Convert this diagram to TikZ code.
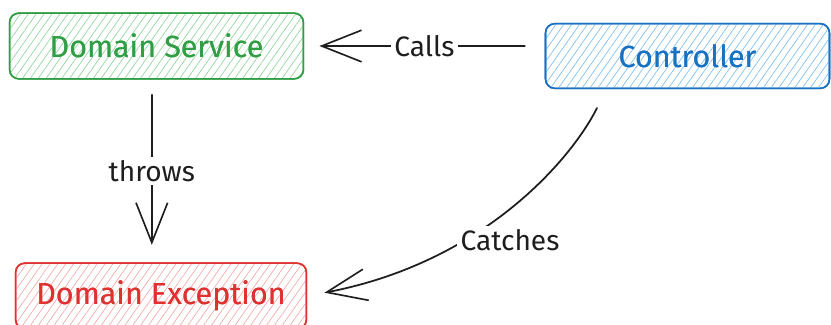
\documentclass[tikz,border=0pt]{standalone}
\usepackage{fontspec}
\setmainfont{Fira Sans}
\usetikzlibrary{arrows.meta,patterns.meta}
\definecolor{dsgreen}{HTML}{2F9E44}
\definecolor{dshatch}{HTML}{8FD69A}
\definecolor{ctblue}{HTML}{1971C2}
\definecolor{cthatch}{HTML}{7DBEF0}
\definecolor{exred}{HTML}{E03131}
\definecolor{exhatch}{HTML}{F2A8A8}
\definecolor{ink}{HTML}{1E1E1E}
\tikzset{
  box/.style={draw, line width=1.3pt, rounded corners=8pt, fill=white,
    inner sep=0pt, font=\fontsize{26}{30}\selectfont},
  hatch/.style={pattern={Lines[angle=55,distance=5.5pt,line width=0.55pt]},
    pattern color=#1},
  conn/.style={draw=ink, line width=1.5pt, line cap=round,
    -{Straight Barb[length=34pt,width=27pt,line width=1.4pt]}},
  lbl/.style={fill=white, text=ink, inner sep=3pt,
    font=\fontsize{24}{28}\selectfont}
}
\begin{document}
\begin{tikzpicture}[x=0.03cm,y=-0.03cm]
  % canvas
  \fill[white] (0,0) rectangle (831,324);
  \useasboundingbox (0,0) rectangle (831,324);
  \clip (0,0) rectangle (831,324);

  % boxes: hatched fill under a rounded outline
  \node[box, draw=dsgreen, text=dsgreen, minimum width=250.9pt, minimum height=56.1pt]
    (ds) at (156.5,46) {Domain Service};
  \fill[hatch=dshatch, rounded corners=8pt] (ds.south west) rectangle (ds.north east);
  \node[box, draw=dsgreen, text=dsgreen, fill=none, minimum width=250.9pt, minimum height=56.1pt]
    at (ds) {Domain Service};

  \node[box, draw=ctblue, text=ctblue, minimum width=242.4pt, minimum height=55.3pt]
    (ctl) at (687.5,56) {Controller};
  \fill[hatch=cthatch, rounded corners=8pt] (ctl.south west) rectangle (ctl.north east);
  \node[box, draw=ctblue, text=ctblue, fill=none, minimum width=242.4pt, minimum height=55.3pt]
    at (ctl) {Controller};

  \node[box, draw=exred, text=exred, minimum width=248.3pt, minimum height=56.1pt]
    (exc) at (161,296) {Domain Exception};
  \fill[hatch=exhatch, rounded corners=8pt] (exc.south west) rectangle (exc.north east);
  \node[box, draw=exred, text=exred, fill=none, minimum width=248.3pt, minimum height=56.1pt]
    at (exc) {Domain Exception};

  % Controller calls Domain Service
  \draw[conn, shorten <=17pt, shorten >=13pt]
    (ctl.west |- ds.east) -- node[lbl] (calls) {Calls} (ds.east);

  % Domain Service throws Domain Exception
  \draw[conn, shorten <=13pt, shorten >=15pt]
    ([xshift=-4pt]ds.south) -- ([xshift=-4pt]ds.south |- exc.north)
    node[lbl, pos=0.5] (throws) {throws};

  % Controller catches Domain Exception
  \coordinate (cs) at (597,108);
  \draw[conn, shorten >=15pt]
    (cs) .. controls (572,158) and (485,262) .. (exc.east);
  \node[lbl] (catches) at (510,240) {Catches};
\end{tikzpicture}
\end{document}
